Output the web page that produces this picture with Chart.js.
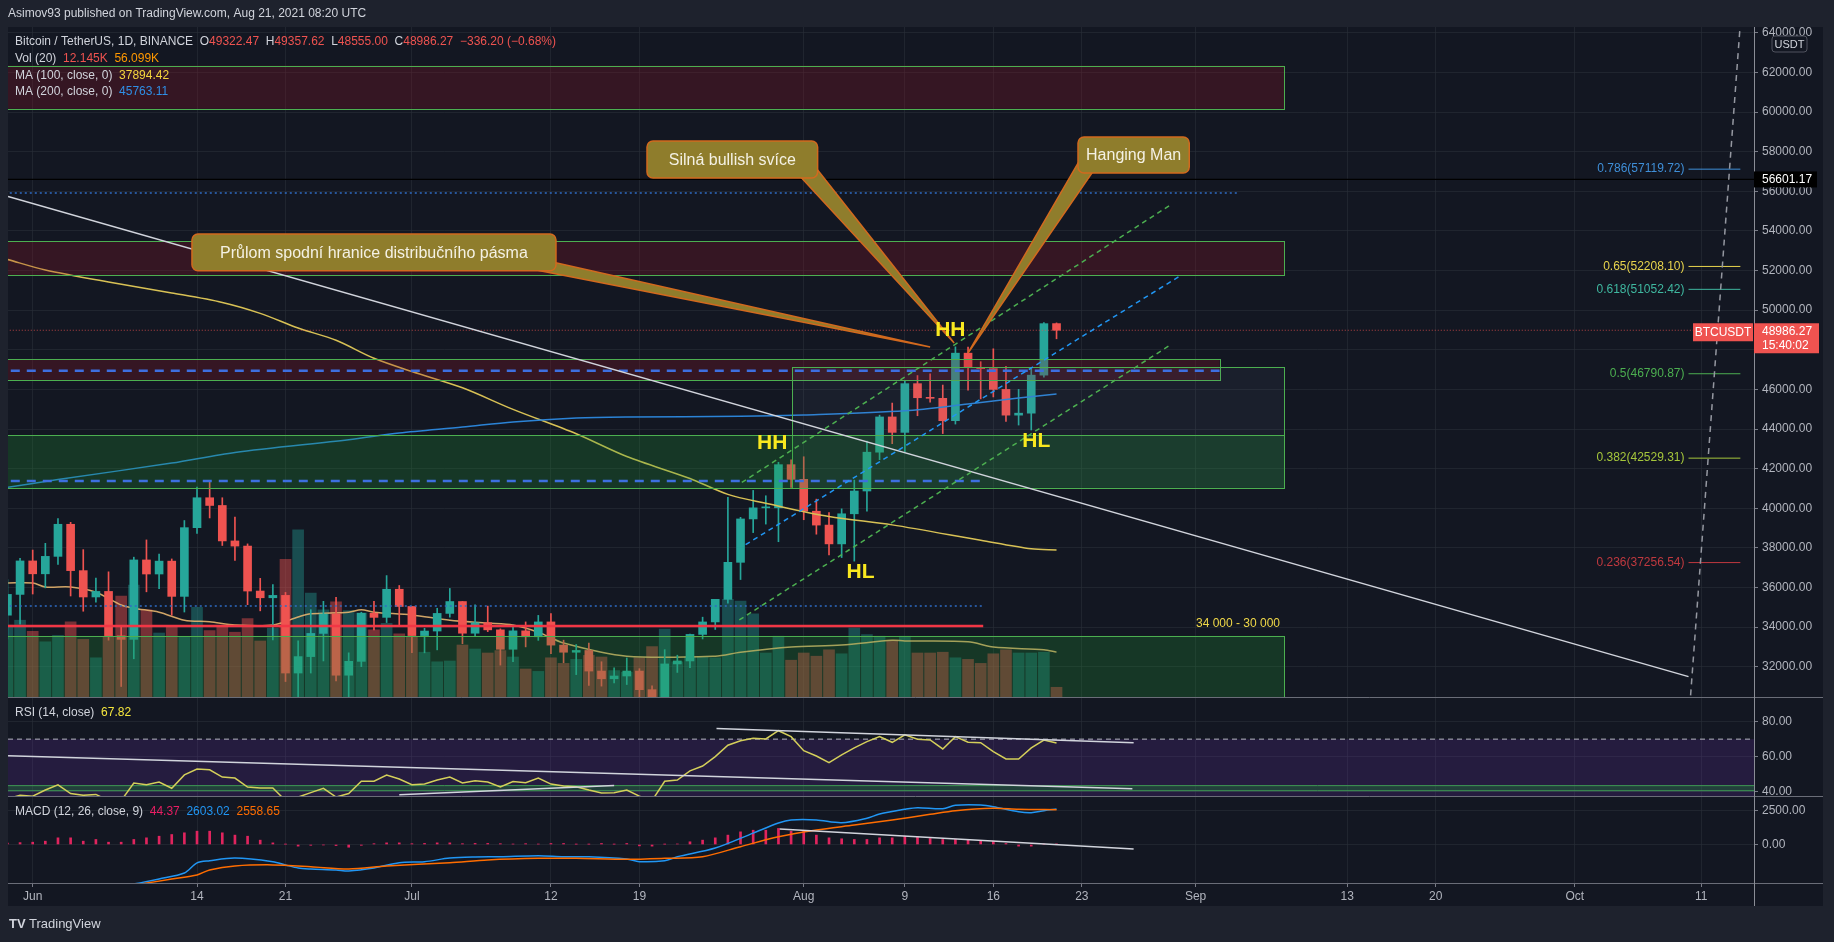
<!DOCTYPE html>
<html lang="cs">
<head>
<meta charset="utf-8">
<title>BTCUSDT 1D</title>
<script src="https://cdn.jsdelivr.net/npm/chart.js@4.4.1/dist/chart.umd.min.js"></script>
<style>
  html, body { margin: 0; padding: 0; background: #1e222d; overflow: hidden; }
  #graf { display: block; }
</style>
</head>
<body>
<canvas id="graf" width="1834" height="942"></canvas>
<script>
// Velas diarias BTC/USDT del 30 may al 21 ago 2021 (dia 0 = 1 jun)
const firstDay = -2;
const opens = [34600, 35650, 37340, 36690, 37570, 39190, 36850, 35520, 35800, 33560, 33380, 37390, 36680, 37330, 35550, 39020, 40530, 40140, 38350, 38090, 35820, 35480, 35600, 31680, 32510, 33680, 34660, 31570, 32270, 34700, 34490, 35910,
  35040, 33570, 33800, 34690, 35290, 33690, 34220, 33860, 32880, 33810, 33510, 34260, 33090, 32730, 32820, 31780, 31390, 31530, 31780, 30840, 29790, 32140, 32290, 33630, 34260, 35400, 37270, 39460, 40020, 40020, 42200,
  41460, 39850, 39150, 38200, 39720, 40870, 42830, 44610, 43830, 46290, 45580, 45550, 44420, 47830, 47110, 47050, 46000, 44700, 44800, 46720, 49322.47];
const highs = [36400, 37470, 37890, 38230, 39480, 39290, 37910, 36480, 36790, 34070, 37530, 38400, 37690, 37440, 39380, 41070, 41330, 40530, 39560, 38200, 36460, 36140, 35750, 33300, 34880, 35300, 35500, 32700, 34750, 35300, 36600, 36100,
  35040, 33940, 34950, 35950, 35290, 35120, 35060, 33910, 34100, 34260, 34590, 34680, 33340, 33120, 33190, 32250, 31940, 32440, 31900, 31040, 32860, 32580, 33650, 34500, 35400, 40550, 39540, 40900, 40630, 42320, 42450,
  42600, 40460, 39780, 39970, 41420, 43390, 44700, 45310, 46460, 46700, 46780, 46220, 48150, 48140, 47400, 48050, 47160, 46000, 47050, 49380, 49357.62];
const lows = [33400, 34150, 35670, 35980, 37170, 35570, 34800, 35260, 33340, 31000, 32400, 35780, 35940, 34600, 34760, 38730, 39510, 38120, 37370, 35130, 34820, 33350, 31250, 28800, 31680, 32290, 31280, 30150, 32000, 33860, 34230, 34020,
  32710, 32700, 32850, 34500, 33160, 33530, 33770, 32080, 32260, 33000, 33330, 32660, 32200, 31600, 31060, 31020, 31180, 31100, 30430, 29280, 29480, 31710, 31950, 33400, 33880, 35210, 36400, 38770, 39200, 38310, 41050,
  39420, 38690, 37640, 37510, 37330, 39850, 42450, 43260, 42850, 44670, 45350, 43770, 44250, 45960, 45520, 45620, 44380, 44200, 43950, 46620, 48555.00];
const closes = [35650, 37340, 36690, 37570, 39190, 36850, 35520, 35800, 33560, 33380, 37390, 36680, 37330, 35550, 39020, 40530, 40140, 38350, 38090, 35820, 35480, 35600, 31680, 32510, 33680, 34660, 31570, 32270, 34700, 34490, 35910, 35040,
  33570, 33800, 34690, 35290, 33690, 34220, 33860, 32880, 33810, 33510, 34260, 33090, 32730, 32820, 31780, 31390, 31530, 31780, 30840, 29790, 32140, 32290, 33630, 34260, 35400, 37270, 39460, 40020, 40020, 42200, 41460,
  39850, 39150, 38200, 39720, 40870, 42830, 44610, 43830, 46290, 45580, 45550, 44420, 47830, 47110, 47050, 46000, 44700, 44800, 46720, 49320, 48986.27];
// volumen en miles de BTC
const volumes = [90, 96, 82, 69, 77, 94, 72, 49, 76, 126, 140, 109, 80, 89, 75, 112, 83, 88, 81, 98, 70, 86, 172, 209, 130, 109, 119, 108, 105, 84, 92, 79,
  75, 56, 44, 45, 65, 60, 55, 58, 50, 35, 32, 49, 42, 47, 52, 50, 33, 31, 49, 63, 85, 44, 50, 50, 49, 122, 120, 104, 55, 76, 46,
  55, 51, 59, 54, 86, 78, 76, 71, 76, 55, 55, 56, 49, 47, 42, 54, 59, 55, 55, 56, 12.145];
const rsiValues = [36, 38, 37.5, 41, 44, 39, 38, 38.5, 35, 35, 45, 44, 45.6, 42, 49.6, 53, 52.5, 48.4, 47.8, 42.7, 42.2, 42.2, 35, 37, 39.5, 42, 37, 39, 46, 46, 49.5, 47.3,
  44, 44.4, 46.7, 48.4, 45, 46.3, 45.6, 42.7, 45.8, 45.2, 47.8, 44.4, 43.3, 42.9, 41, 39.3, 39.5, 41, 37.5, 35, 46, 46.7, 51.9, 54.7, 60, 66.5, 69.1, 70.5, 70.1, 74.8, 71.4,
  63.4, 60.4, 56.6, 61, 65, 68.6, 71.4, 68.2, 72.4, 69.9, 69.5, 64.4, 71.4, 68.2, 68, 62.9, 58.7, 58.7, 65, 69.5, 67.82];
const macdHist = [100, 140, 170, 245, 490, 490, 245, 370, 170, 170, 370, 490, 610, 735, 860, 980, 980, 860, 690, 610, 320, 120, 20, -120, -60, -30, -80, -200, -60, 60, 120, 120,
  60, 80, 120, 120, 60, 80, 80, 60, 30, 60, 30, 75, 75, 20, 20, 75, 20, 75, -100, -120, 20, 40, 200, 320, 490, 690, 930, 1050, 1050, 1180, 980,
  980, 690, 490, 420, 370, 370, 490, 490, 610, 540, 440, 370, 370, 320, 245, 245, 75, -120, -120, 20, 44.37];

// lineas (dia, valor)
const macdDays = [-2, 4, 8, 10, 12, 13, 14, 16, 19, 20, 21, 22, 24, 25, 27, 29, 31, 33, 35, 37, 40, 42, 44, 47, 48, 50, 51, 54, 57, 59, 60, 62, 64, 66, 67, 69, 70, 72, 73, 75, 76, 78, 79, 80, 81];
const macdVals = [-4000, -3500, -2900, -2530, -2100, -1350, -1190, -1000, -1260, -1500, -1730, -1800, -1870, -1950, -1730, -1340, -1260, -1000, -920, -900, -820, -900, -900, -1070, -1260, -1190, -900, -260, 840, 1580, 1800, 1800, 1600, 1930, 2240, 2590, 2710, 2630, 2880, 2900, 2780, 2410, 2340, 2490, 2603.02];
const signalDays = [-2, 4, 8, 11, 13, 14, 16, 19, 22, 25, 28, 33, 36, 40, 43, 47, 50, 53, 56, 59, 62, 65, 68, 71, 73, 76, 78, 81];
const signalVals = [-4300, -3700, -3000, -2530, -2240, -1870, -1580, -1500, -1630, -1800, -1580, -1340, -1140, -1020, -1020, -1090, -1020, -900, -160, 570, 1070, 1430, 1800, 2220, 2490, 2660, 2590, 2558.65];
const ma100Days = [-2, 1, 6, 11, 15, 18, 21, 24, 27, 30, 34, 38, 43, 47, 52, 55, 58, 63, 68, 75, 79, 81];
const ma100Vals = [52560, 52030, 51420, 50870, 50390, 49840, 49100, 48480, 47570, 46900, 46080, 44990, 43760, 42610, 41500, 40700, 40250, 39580, 39160, 38380, 37950, 37894.42];
const ma200Days = [-2, 2, 11, 16, 25, 29, 34, 38, 43, 47, 56, 61, 69, 74, 78, 81];
const ma200Vals = [41050, 41450, 42280, 42820, 43460, 43800, 44100, 44360, 44560, 44610, 44640, 44710, 44920, 45260, 45560, 45763.11];
const volMaDays = [-2, 0, 1, 3, 5, 7, 8, 10, 12, 14, 16, 19, 21, 22, 25, 26, 27, 30, 33, 36, 38, 40, 42, 47, 54, 56, 60, 64, 68, 69, 74, 76, 80, 81];
const volMaVals = [142.5, 142.5, 137.5, 137.5, 131, 115, 111, 106, 96, 94, 90, 90, 100, 104, 106, 109, 106, 102.5, 96, 92.5, 90, 81, 67.5, 51, 51, 56, 62.5, 65, 71, 70, 69, 62.5, 59, 56.099];

// ejes
const tickDays = [0, 13, 20, 30, 41, 48, 61, 69, 76, 83, 92, 104, 111, 122, 132];
const tickLabels = ['Jun', '14', '21', 'Jul', '12', '19', 'Aug', '9', '16', '23', 'Sep', '13', '20', 'Oct', '11'];
const priceTicks = [32000, 34000, 36000, 38000, 40000, 42000, 44000, 46000, 48000, 50000, 52000, 54000, 56000, 58000, 60000, 62000, 64000];
const rsiTicks = [40, 60, 80];
const macdTicks = [0, 2500];

// niveles fibonacci
const fibRatios = ['0.786', '0.65', '0.618', '0.5', '0.382', '0.236'];
const fibPrices = [57119.72, 52208.10, 51052.42, 46790.87, 42529.31, 37256.54];
const markPrice = 56601.17;

// dibujos del autor (dia / precio)
const zones = [
  { from: -3, to: 99, top: 62350, bottom: 60170, fill: 'rgba(150,20,40,0.26)' },
  { from: -3, to: 99, top: 53494, bottom: 51780, fill: 'rgba(150,20,40,0.26)' },
  { from: -3, to: 93.9, top: 47535, bottom: 46477, fill: 'rgba(150,20,40,0.26)' },
  { from: 60.1, to: 99, top: 47130, bottom: 41030, fill: 'rgba(120,130,160,0.08)' },
  { from: -3, to: 99, top: 43700, bottom: 41025, fill: 'rgba(30,150,50,0.25)' },
  { from: -3, to: 99, top: 33556, bottom: 28000, fill: 'rgba(30,150,50,0.25)' }
];
const hLines = [
  { from: -3, to: 93.9, price: 46937, color: '#3d6fe0', width: 2.5, dash: [9, 7] },
  { from: -3, to: 75.2, price: 41380, color: '#3d6fe0', width: 2.5, dash: [9, 7] },
  { from: -3, to: 95.3, price: 55910, color: '#2f6cc4', width: 1.5, dash: [2, 3] },
  { from: -3, to: 75.2, price: 35070, color: '#2f6cc4', width: 1.5, dash: [2, 3] },
  { from: -3, to: 75.2, price: 34060, color: '#f23645', width: 2.5, dash: [] },
  { from: -3, to: 140, price: markPrice, color: '#000000', width: 1.2, dash: [] },
  { from: -3, to: 131.4, price: 48986.27, color: 'rgba(239,83,80,0.75)', width: 1, dash: [1, 2] }
];
const trendLines = [
  { pane: 'y', x1: -1.95, y1: 55740, x2: 131, y2: 31500, color: '#d1d4dc', dash: [] },
  { pane: 'y', x1: 56.1, y1: 41300, x2: 90, y2: 55310, color: '#4caf50', dash: [5, 4] },
  { pane: 'y', x1: 56.4, y1: 38160, x2: 90.9, y2: 51780, color: '#2196f3', dash: [5, 4] },
  { pane: 'y', x1: 55.9, y1: 34360, x2: 90, y2: 48240, color: '#4caf50', dash: [5, 4] },
  { pane: 'y', x1: 131.1, y1: 30000, x2: 135.1, y2: 64500, color: '#9598a1', dash: [6, 5] },
  { pane: 'yRsi', x1: -1.95, y1: 60.6, x2: 87, y2: 41.8, color: '#d1d4dc', dash: [] },
  { pane: 'yRsi', x1: 54.1, y1: 76, x2: 87.1, y2: 68, color: '#d1d4dc', dash: [] },
  { pane: 'yRsi', x1: 29, y1: 38.3, x2: 46, y2: 43.6, color: '#d1d4dc', dash: [] },
  { pane: 'yMacd', x1: 59.1, y1: 1140, x2: 87.1, y2: -330, color: '#d1d4dc', dash: [] }
];
const swingLabels = [
  { text: 'HH', day: 58.5, price: 43300 },
  { text: 'HL', day: 65.5, price: 36790 },
  { text: 'HH', day: 72.6, price: 49000 },
  { text: 'HL', day: 79.4, price: 43370 }
];
const callouts = [
  { text: 'Průlom spodní hranice distribučního pásma', from: 12.6, to: 41.4, top: 53850, bottom: 51990, tipDay: 71, tipPrice: 48140, side: 'right' },
  { text: 'Silná bullish svíce', from: 48.6, to: 62.1, top: 58540, bottom: 56670, tipDay: 72.9, tipPrice: 48345, side: 'right' },
  { text: 'Hanging Man', from: 82.7, to: 91.5, top: 58740, bottom: 56925, tipDay: 74, tipPrice: 47840, side: 'left' }
];

const days = opens.map((_, i) => firstDay + i);
const last = opens.length - 1;
const up = (i) => closes[i] >= opens[i];
const upColor = '#26a69a';
const downColor = '#ef5350';
const fibColors = ['#3f8fd8', '#e8d44d', '#3fb8a0', '#4caf50', '#a5c63b', '#c0393f'];
const font = '"Liberation Sans", "DejaVu Sans", sans-serif';
const narrow = '"Liberation Sans Narrow", "Liberation Sans", sans-serif';
const axisText = '#b2b5be';

const pts = (xs, ys) => xs.map((d, i) => ({ x: d, y: ys[i] }));

function segs(ctx, parts, x, y) {
  for (const [t, c] of parts) {
    ctx.fillStyle = c;
    ctx.fillText(t, x, y);
    x += ctx.measureText(t).width;
  }
}
function seg(ctx, x1, y1, x2, y2, color, width, dash) {
  ctx.beginPath();
  ctx.setLineDash(dash || []);
  ctx.strokeStyle = color;
  ctx.lineWidth = width;
  ctx.moveTo(x1, y1);
  ctx.lineTo(x2, y2);
  ctx.stroke();
  ctx.setLineDash([]);
}
function rrect(ctx, x, y, w, h, r) {
  ctx.beginPath();
  ctx.moveTo(x + r, y);
  ctx.arcTo(x + w, y, x + w, y + h, r);
  ctx.arcTo(x + w, y + h, x, y + h, r);
  ctx.arcTo(x, y + h, x, y, r);
  ctx.arcTo(x, y, x + w, y, r);
  ctx.closePath();
}
function clipPane(ctx, xs, ys) {
  ctx.beginPath();
  ctx.rect(xs.left, ys.top, xs.right - xs.left, ys.bottom - ys.top);
  ctx.clip();
}

const drawings = {
  id: 'drawings',
  beforeDraw(chart) {
    const ctx = chart.ctx;
    const a = chart.chartArea;
    ctx.save();
    ctx.fillStyle = '#1e222d';
    ctx.fillRect(0, 0, chart.width, chart.height);
    ctx.fillStyle = '#131722';
    ctx.fillRect(a.left, a.top, a.right + 69 - a.left, a.bottom + 23 - a.top);
    ctx.textBaseline = 'middle';
    ctx.font = '12px ' + narrow;
    ctx.fillStyle = '#d1d4dc';
    ctx.fillText('Asimov93 published on TradingView.com, Aug 21, 2021 08:20 UTC', 8, 14);
    // logo
    ctx.font = 'bold 13px ' + font;
    ctx.fillText('TV', 9, 924);
    ctx.font = '13px ' + narrow;
    ctx.fillText('TradingView', 29, 924);
    ctx.restore();
  },
  beforeDatasetsDraw(chart) {
    const ctx = chart.ctx;
    const s = chart.scales;
    ctx.save();
    clipPane(ctx, s.x, s.yRsi);
    const y70 = s.yRsi.getPixelForValue(70);
    const y30 = s.yRsi.getPixelForValue(30);
    ctx.fillStyle = 'rgba(110,50,180,0.2)';
    ctx.fillRect(s.x.left, y70, s.x.right - s.x.left, y30 - y70);
    seg(ctx, s.x.left, y70, s.x.right, y70, 'rgba(210,212,220,0.85)', 1, [5, 4]);
    const g1 = s.yRsi.getPixelForValue(43.5);
    const g2 = s.yRsi.getPixelForValue(40.6);
    ctx.fillStyle = 'rgba(30,150,50,0.3)';
    ctx.fillRect(s.x.left, g1, s.x.right - s.x.left, g2 - g1);
    seg(ctx, s.x.left, g1, s.x.right, g1, '#3f9a55', 1);
    seg(ctx, s.x.left, g2, s.x.right, g2, '#3f9a55', 1);
    ctx.restore();
  },
  afterDatasetsDraw(chart) {
    const ctx = chart.ctx;
    const s = chart.scales;
    const a = chart.chartArea;
    const X = (d) => s.x.getPixelForValue(d);
    const Y = (p) => s.y.getPixelForValue(p);
    const right = a.right + 69;

    ctx.save();
    clipPane(ctx, s.x, s.y);
    for (const z of zones) {
      const x1 = X(z.from), x2 = X(z.to), y1 = Y(z.top), y2 = Y(z.bottom);
      ctx.fillStyle = z.fill;
      ctx.fillRect(x1, y1, x2 - x1, y2 - y1);
      ctx.strokeStyle = '#4caf50';
      ctx.lineWidth = 1;
      ctx.strokeRect(Math.round(x1) + 0.5, Math.round(y1) + 0.5, Math.round(x2 - x1), Math.round(y2 - y1));
    }
    ctx.font = '12px ' + font;
    ctx.textAlign = 'right';
    ctx.textBaseline = 'middle';
    ctx.fillStyle = '#f0d848';
    ctx.fillText('34 000 - 30 000', X(99) - 4, Y(33556) - 12);
    for (const l of hLines) {
      seg(ctx, X(l.from), Y(l.price), X(l.to), Y(l.price), l.color, l.width, l.dash);
    }
    // fibonacci
    fibPrices.forEach((p, i) => {
      seg(ctx, X(131.0), Y(p), X(135.1), Y(p), fibColors[i], 1);
      ctx.fillStyle = fibColors[i];
      ctx.fillText(fibRatios[i] + '(' + p.toFixed(2) + ')', X(131.0) - 4, Y(p));
    });
    ctx.restore();

    for (const t of trendLines) {
      const ys = s[t.pane];
      ctx.save();
      clipPane(ctx, s.x, ys);
      seg(ctx, X(t.x1), ys.getPixelForValue(t.y1), X(t.x2), ys.getPixelForValue(t.y2), t.color, 1.5, t.dash);
      ctx.restore();
    }

    ctx.save();
    clipPane(ctx, s.x, s.y);
    // bocadillos
    for (const c of callouts) {
      const x1 = X(c.from), x2 = X(c.to), y1 = Y(c.top), y2 = Y(c.bottom);
      const tx = X(c.tipDay), ty = Y(c.tipPrice);
      const base = c.side === 'right' ? [[x2 - 16, y2], [x2, y2 - 8]] : [[x1, y2 - 10], [x1 + 14, y2]];
      ctx.beginPath();
      ctx.moveTo(base[0][0], base[0][1]);
      ctx.lineTo(tx, ty);
      ctx.lineTo(base[1][0], base[1][1]);
      ctx.closePath();
      ctx.fillStyle = '#8f7d2c';
      ctx.fill();
      ctx.strokeStyle = '#d2691e';
      ctx.lineWidth = 1.5;
      ctx.stroke();
      rrect(ctx, x1, y1, x2 - x1, y2 - y1, 6);
      ctx.fillStyle = '#8f7d2c';
      ctx.fill();
      ctx.stroke();
      ctx.fillStyle = '#f4f1e4';
      ctx.font = '16px ' + font;
      ctx.textAlign = 'center';
      ctx.textBaseline = 'middle';
      ctx.fillText(c.text, (x1 + x2) / 2, (y1 + y2) / 2 + 1);
    }
    ctx.font = 'bold 21px ' + font;
    ctx.fillStyle = '#f9e81f';
    ctx.textAlign = 'center';
    for (const l of swingLabels) ctx.fillText(l.text, X(l.day), Y(l.price));
    ctx.restore();

    // separadores
    ctx.save();
    seg(ctx, a.left, s.yRsi.top + 0.5, right, s.yRsi.top + 0.5, '#6a6d78', 1);
    seg(ctx, a.left, s.yMacd.top + 0.5, right, s.yMacd.top + 0.5, '#6a6d78', 1);
    seg(ctx, a.left, a.bottom + 0.5, right, a.bottom + 0.5, '#6a6d78', 1);
    seg(ctx, a.right + 0.5, a.top, a.right + 0.5, a.bottom + 23, '#8a8d96', 1);

    // etiquetas del eje de precios
    ctx.textBaseline = 'middle';
    ctx.textAlign = 'left';
    ctx.font = '12px ' + font;
    const ym = Y(markPrice);
    ctx.fillStyle = '#000000';
    ctx.fillRect(a.right, ym - 8, 63, 16);
    ctx.fillStyle = '#ffffff';
    ctx.fillText(markPrice.toFixed(2), a.right + 8, ym);
    const yc = Y(closes[last]);
    ctx.fillStyle = '#ef5350';
    ctx.fillRect(a.right, yc - 7, 65, 30);
    ctx.fillRect(a.right - 61, yc - 7, 60, 18);
    ctx.fillStyle = '#ffffff';
    ctx.fillText(closes[last].toFixed(2), a.right + 8, yc + 1);
    ctx.fillText('15:40:02', a.right + 8, yc + 15);
    ctx.textAlign = 'center';
    ctx.fillText('BTCUSDT', a.right - 31, yc + 2);
    rrect(ctx, a.right + 18, 36, 35, 16, 3);
    ctx.fillStyle = '#131722';
    ctx.fill();
    ctx.strokeStyle = '#50535e';
    ctx.lineWidth = 1;
    ctx.stroke();
    ctx.fillStyle = '#d1d4dc';
    ctx.font = '11px ' + font;
    ctx.fillText('USDT', a.right + 35.5, 44.5);

    // leyendas
    const gray = '#d1d4dc', red = '#ef5350';
    ctx.textAlign = 'left';
    ctx.font = '12px ' + narrow;
    const chg = closes[last] - opens[last];
    segs(ctx, [['Bitcoin / TetherUS, 1D, BINANCE  O', gray], [opens[last].toFixed(2), red], ['  H', gray], [highs[last].toFixed(2), red],
      ['  L', gray], [lows[last].toFixed(2), red], ['  C', gray], [closes[last].toFixed(2), red],
      ['  \u2212' + Math.abs(chg).toFixed(2) + ' (\u2212' + Math.abs(chg / opens[last] * 100).toFixed(2) + '%)', red]], 15, 42);
    segs(ctx, [['Vol (20)  ', gray], [volumes[last].toFixed(3) + 'K', red], ['  ' + volMaVals[volMaVals.length - 1].toFixed(3) + 'K', '#ff9800']], 15, 59);
    segs(ctx, [['MA (100, close, 0)  ', gray], [ma100Vals[ma100Vals.length - 1].toFixed(2), '#f5d63d']], 15, 76);
    segs(ctx, [['MA (200, close, 0)  ', gray], [ma200Vals[ma200Vals.length - 1].toFixed(2), '#2f8fe6']], 15, 92);
    segs(ctx, [['RSI (14, close)  ', gray], [rsiValues[last].toFixed(2), '#f5e63d']], 15, s.yRsi.top + 16);
    segs(ctx, [['MACD (12, 26, close, 9)  ', gray], [macdHist[last].toFixed(2), '#e91e63'], ['  ' + macdVals[macdVals.length - 1].toFixed(2), '#2196f3'],
      ['  ' + signalVals[signalVals.length - 1].toFixed(2), '#ff6d00']], 15, s.yMacd.top + 16);
    ctx.restore();
  }
};

const yAxis = (ticks, min, max, weight) => ({
  position: 'right',
  stack: 'panes',
  stackWeight: weight,
  min: min,
  max: max,
  grid: { color: 'rgba(42,46,57,0.6)', tickColor: '#787b86', tickLength: 4 },
  border: { color: '#8a8d96' },
  ticks: { color: axisText, font: { size: 12, family: font }, padding: 4, callback: (v) => Number(v).toFixed(2) },
  afterBuildTicks: (sc) => { sc.ticks = ticks.map((v) => ({ value: v })); },
  afterFit: (sc) => { sc.width = 69; }
});

const volUp = 'rgba(38,166,154,0.38)';
const volDown = 'rgba(239,83,80,0.45)';

new Chart(document.getElementById('graf'), {
  type: 'bar',
  data: {
    datasets: [
      { type: 'bar', label: 'Vol', data: pts(days, volumes), yAxisID: 'yVol', backgroundColor: days.map((d, i) => up(i) ? volUp : volDown), barThickness: 11, grouped: false, clip: 0, order: 10 },
      { type: 'line', label: 'Vol MA', data: pts(volMaDays, volMaVals), yAxisID: 'yVol', borderColor: 'rgba(230,180,110,0.9)', borderWidth: 1.5, pointRadius: 0, tension: 0.3, order: 9 },
      { type: 'bar', label: 'wick', data: days.map((d, i) => ({ x: d, y: [lows[i], highs[i]] })), yAxisID: 'y', backgroundColor: days.map((d, i) => up(i) ? upColor : downColor), barThickness: 1, grouped: false, clip: 0, order: 8 },
      { type: 'bar', label: 'body', data: days.map((d, i) => ({ x: d, y: [opens[i], closes[i]] })), yAxisID: 'y', backgroundColor: days.map((d, i) => up(i) ? upColor : downColor), barThickness: 8, minBarLength: 1, grouped: false, clip: 0, order: 7 },
      { type: 'line', label: 'MA100', data: pts(ma100Days, ma100Vals), yAxisID: 'y', borderColor: '#d8c155', borderWidth: 1.5, pointRadius: 0, tension: 0.3, order: 6 },
      { type: 'line', label: 'MA200', data: pts(ma200Days, ma200Vals), yAxisID: 'y', borderColor: '#2b83d6', borderWidth: 1.5, pointRadius: 0, tension: 0.3, order: 5 },
      { type: 'line', label: 'RSI', data: pts(days, rsiValues), yAxisID: 'yRsi', borderColor: '#d4cf5a', borderWidth: 1.5, pointRadius: 0, tension: 0, order: 4 },
      { type: 'bar', label: 'Hist', data: pts(days, macdHist), yAxisID: 'yMacd', backgroundColor: '#e0245e', barThickness: 2, grouped: false, clip: 0, order: 3 },
      { type: 'line', label: 'MACD', data: pts(macdDays, macdVals), yAxisID: 'yMacd', borderColor: '#2196f3', borderWidth: 1.5, pointRadius: 0, tension: 0.3, order: 2 },
      { type: 'line', label: 'Signal', data: pts(signalDays, signalVals), yAxisID: 'yMacd', borderColor: '#ff6d00', borderWidth: 1.5, pointRadius: 0, tension: 0.3, order: 1 }
    ]
  },
  options: {
    responsive: false,
    animation: false,
    devicePixelRatio: 1,
    layout: { padding: { left: 8, top: 27, right: 11, bottom: 36 } },
    plugins: { legend: { display: false }, tooltip: { enabled: false } },
    scales: {
      x: {
        type: 'linear',
        min: -1.954,
        max: 136.18,
        offset: false,
        grid: { color: 'rgba(42,46,57,0.6)', offset: false, tickColor: '#787b86', tickLength: 4 },
        border: { color: '#6a6d78' },
        ticks: { color: axisText, font: { size: 12, family: font }, padding: 2, maxRotation: 0, autoSkip: false, callback: (v, i) => tickLabels[i] },
        afterBuildTicks: (sc) => { sc.ticks = tickDays.map((d) => ({ value: d })); },
        afterFit: (sc) => { sc.height = 23; }
      },
      y: yAxis(priceTicks, 30470, 64297, 670),
      yRsi: yAxis(rsiTicks, 37.6, 94, 99),
      yMacd: yAxis(macdTicks, -2831, 3566, 87),
      yVol: { display: false, min: -232.5, max: 837.5 }
    }
  },
  plugins: [drawings]
});
</script>
</body>
</html>
